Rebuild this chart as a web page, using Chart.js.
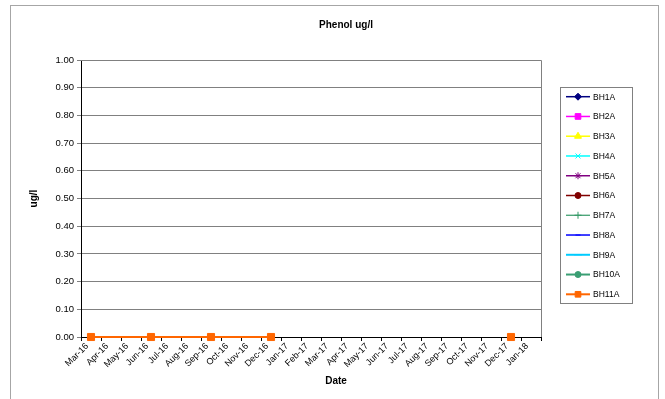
<!DOCTYPE html>
<html>
<head>
<meta charset="utf-8">
<script src="https://cdn.jsdelivr.net/npm/chart.js@4.4.1/dist/chart.umd.min.js"></script>
<style>
  html, body { margin: 0; padding: 0; background: #fff; }
  #wrap { position: relative; width: 665px; height: 399px; }
</style>
</head>
<body>
<div id="wrap"><canvas id="c" width="665" height="399"></canvas></div>
<script>
// Month categories along the date axis
const months = ['Mar-16', 'Apr-16', 'May-16', 'Jun-16', 'Jul-16', 'Aug-16', 'Sep-16', 'Oct-16',
  'Nov-16', 'Dec-16', 'Jan-17', 'Feb-17', 'Mar-17', 'Apr-17', 'May-17', 'Jun-17', 'Jul-17',
  'Aug-17', 'Sep-17', 'Oct-17', 'Nov-17', 'Dec-17', 'Jan-18'];

// Boreholes
const seriesNames = ['BH1A', 'BH2A', 'BH3A', 'BH4A', 'BH5A', 'BH6A', 'BH7A', 'BH8A', 'BH9A', 'BH10A', 'BH11A'];

// Phenol readings (ug/l); only BH11A has results
const bh11aDates = ['Mar-16', 'Jun-16', 'Sep-16', 'Dec-16', 'Dec-17'];
const bh11aValues = [0.00, 0.00, 0.00, 0.00, 0.00];
const noReadings = [];

// Y axis range
const yMin = 0.0;
const yMax = 1.0;
const yStep = 0.1;

const FONT = "'Liberation Sans', Arial, Helvetica, sans-serif";

const seriesStyles = {
  BH1A:  { color: '#000080', point: 'rectRot',  radius: 3.5, lw: 1.5 },
  BH2A:  { color: '#FF00FF', point: 'rect',     radius: 4.5, lw: 1.5 },
  BH3A:  { color: '#FFFF00', point: 'triangle', radius: 4,   lw: 1.5 },
  BH4A:  { color: '#00FFFF', point: 'crossRot', radius: 3.5, lw: 1.5 },
  BH5A:  { color: '#800080', point: 'star',     radius: 3.5, lw: 1.5 },
  BH6A:  { color: '#800000', point: 'circle',   radius: 3,   lw: 1.5 },
  BH7A:  { color: '#339966', point: 'cross',    radius: 3.5, lw: 1.2 },
  BH8A:  { color: '#0000FF', point: 'line',     radius: 2.5, lw: 1.5 },
  BH9A:  { color: '#00CCFF', point: 'line',     radius: 4,   lw: 2 },
  BH10A: { color: '#3A9E73', point: 'circle',   radius: 3,   lw: 2 },
  BH11A: { color: '#FF6600', point: 'rect',     radius: 5,   lw: 2 }
};

function pointsFor(dates, values) {
  return dates.map((d, i) => ({ x: d, y: values[i] }));
}

const datasets = seriesNames.map(name => {
  const st = seriesStyles[name];
  const data = name === 'BH11A' ? pointsFor(bh11aDates, bh11aValues) : noReadings;
  return {
    label: name,
    data: data,
    borderColor: st.color,
    backgroundColor: st.color,
    borderWidth: st.lw,
    pointStyle: st.point,
    pointRadius: st.radius,
    pointBorderWidth: 1,
    pointBackgroundColor: st.color,
    pointBorderColor: st.color,
    tension: 0,
    spanGaps: 3,
    clip: false
  };
});

// Frame, titles and the boxed legend on the right
const decorations = {
  id: 'decorations',
  beforeDraw(chart) {
    const ctx = chart.ctx;
    ctx.save();
    ctx.fillStyle = '#ffffff';
    ctx.fillRect(0, 0, chart.width, chart.height);
    ctx.strokeStyle = '#a6a6a6';
    ctx.lineWidth = 1;
    ctx.strokeRect(10.5, 5.5, 648, 430);
    ctx.restore();
  },
  beforeDatasetsDraw(chart) {
    const { ctx, chartArea: a } = chart;
    ctx.save();
    ctx.strokeStyle = '#808080';
    ctx.lineWidth = 1;
    ctx.beginPath();
    ctx.moveTo(a.left, a.top + 0.5);
    ctx.lineTo(Math.round(a.right) + 0.5, a.top + 0.5);
    ctx.lineTo(Math.round(a.right) + 0.5, a.bottom);
    ctx.stroke();
    ctx.restore();
  },
  afterDraw(chart) {
    const ctx = chart.ctx;
    ctx.save();
    // chart title
    ctx.fillStyle = '#000';
    ctx.font = 'bold 10px ' + FONT;
    ctx.textAlign = 'center';
    ctx.textBaseline = 'middle';
    ctx.fillText('Phenol ug/l', 346, 25);
    // x axis title
    ctx.fillText('Date', 336, 381);

    // legend box
    const lx = 560.5, ly = 87.5, lw = 72, lh = 216;
    ctx.strokeStyle = '#808080';
    ctx.lineWidth = 1;
    ctx.strokeRect(lx, ly, lw, lh);
    ctx.font = '8.5px ' + FONT;
    ctx.textAlign = 'left';
    chart.data.datasets.forEach((ds, i) => {
      const st = seriesStyles[ds.label];
      const y = 96.7 + i * 19.76;
      ctx.strokeStyle = st.color;
      ctx.lineWidth = st.lw;
      ctx.beginPath();
      ctx.moveTo(566, y);
      ctx.lineTo(590, y);
      ctx.stroke();
      ctx.fillStyle = st.color;
      ctx.lineWidth = 1;
      Chart.helpers.drawPoint(ctx, {
        pointStyle: st.point,
        radius: Math.min(st.radius, 4),
        rotation: 0,
        borderWidth: st.point === 'line' ? st.lw + 1 : 1
      }, 578, y);
      ctx.fillStyle = '#000';
      ctx.fillText(ds.label, 593, y + 0.5);
    });
    ctx.restore();
  }
};

new Chart(document.getElementById('c'), {
  type: 'line',
  data: { labels: months, datasets: datasets },
  options: {
    responsive: false,
    animation: false,
    devicePixelRatio: 1,
    layout: { padding: { left: 10, top: 60, right: 124, bottom: 0 } },
    plugins: {
      legend: { display: false },
      title: { display: false },
      tooltip: { enabled: false }
    },
    scales: {
      x: {
        type: 'category',
        offset: true,
        afterFit(scale) { scale.height = 62; },
        grid: {
          display: true,
          drawOnChartArea: false,
          offset: true,
          tickLength: 4,
          color: '#000'
        },
        border: { color: '#000', width: 1 },
        ticks: {
          autoSkip: false,
          maxRotation: 45,
          minRotation: 45,
          padding: 0,
          labelOffset: -4,
          color: '#000',
          font: { family: FONT, size: 9 }
        }
      },
      y: {
        min: yMin,
        max: yMax,
        afterFit(scale) { scale.width = 71; },
        grid: { color: '#808080', lineWidth: 1, tickLength: 4 },
        border: { color: '#000', width: 1 },
        ticks: {
          stepSize: yStep,
          padding: 3,
          color: '#000',
          font: { family: FONT, size: 9.5 },
          callback: v => Number(v).toFixed(2)
        },
        title: {
          display: true,
          text: 'ug/l',
          color: '#000',
          font: { family: FONT, size: 10, weight: 'bold' },
          padding: { top: 18, bottom: 0 }
        }
      }
    }
  },
  plugins: [decorations]
});
</script>
</body>
</html>
